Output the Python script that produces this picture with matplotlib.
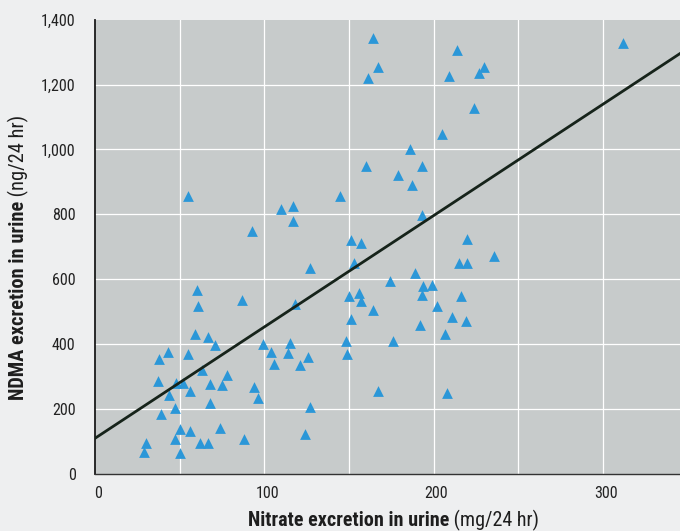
import matplotlib
matplotlib.use("Agg")
import matplotlib.pyplot as plt
import matplotlib.transforms as mtransforms
import numpy as np

# Nitrate excretion (mg/24 hr) vs NDMA excretion (ng/24 hr)
nitrate = [29, 30, 50, 47, 62, 67, 88, 50, 56, 74, 39, 47, 68, 44, 56, 96, 94,
           37, 48, 52, 68, 75, 78, 63, 38, 43, 55, 59, 67, 71, 61, 60, 87, 55,
           93, 110, 117, 117, 127, 118, 99, 115, 104, 114, 126, 106, 121, 127, 124,
           145, 151, 157, 153, 150, 156, 157, 164, 151, 148, 149, 167, 160, 164, 167, 161,
           179, 187, 193, 193, 186, 205, 224, 209, 214, 227, 230, 220, 236, 215, 220,
           174, 189, 194, 199, 193, 216, 202, 211, 219, 192, 176, 207, 208, 312]
ndma = [68, 96, 65, 108, 96, 96, 108, 139, 133, 142, 185, 203, 218, 243, 255, 234, 267,
        286, 280, 280, 276, 273, 304, 319, 353, 377, 371, 432, 423, 396, 518, 567, 536, 857,
        750, 815, 827, 781, 634, 524, 399, 405, 377, 374, 362, 338, 335, 206, 124,
        857, 720, 711, 650, 549, 558, 533, 506, 478, 411, 371, 255, 949, 1344, 1255, 1221,
        922, 891, 799, 949, 1001, 1047, 1127, 1227, 1307, 1237, 1255, 723, 671, 650, 650,
        594, 619, 579, 582, 552, 549, 518, 484, 472, 460, 411, 432, 249, 1328]

# regression line
fit_intercept = 110
fit_slope = 3.43

x_ticks = [0, 100, 200, 300]
x_grid = [50, 100, 150, 200, 250, 300]
y_ticks = [0, 200, 400, 600, 800, 1000, 1200, 1400]
y_tick_labels = ["0", "200", "400", "600", "800", "1,000", "1,200", "1,400"]

FONT = ["Roboto Condensed", "Liberation Sans Narrow", "Liberation Sans", "DejaVu Sans"]
BG = "#eeeff0"


def two_part_label(fig, bold, normal, start, base, rotation, length):
    """Bold + regular label side by side, fitted to `length` figure pixels."""
    r = fig.canvas.get_renderer()
    t1 = fig.text(0, 0, bold, fontsize=14, weight="bold", family=FONT)
    t2 = fig.text(0, 0, " " + normal, fontsize=14, family=FONT)
    total = t1.get_window_extent(r).width + t2.get_window_extent(r).width
    size = 14 * length / total
    t1.set_fontsize(size)
    t2.set_fontsize(size)
    w1 = t1.get_window_extent(r).width
    W, H = fig.bbox.width, fig.bbox.height
    if rotation == 0:
        t1.set_position((start / W, base / H))
        t2.set_position(((start + w1) / W, base / H))
    else:
        t1.set_position((base / W, start / H))
        t2.set_position((base / W, (start + w1) / H))
    for t in (t1, t2):
        t.set_rotation(rotation)
        t.set_rotation_mode("anchor")
        t.set_ha("left")
        t.set_va("baseline")
        t.set_color("#1e1e1e")


fig = plt.figure(figsize=(6.8, 5.31), dpi=100, facecolor=BG)
ax = fig.add_axes([95 / 680, 1 - 474 / 531, 585 / 680, (474 - 19.6) / 531])
ax.set_facecolor("#c7cbcb")

ax.set_xlim(0, 345.6)
ax.set_ylim(0, 1400)

ax.set_xticks(x_ticks)
ax.set_yticks(y_ticks)
ax.set_yticklabels(y_tick_labels)
ax.grid(False)
for gx in x_grid:
    ax.axvline(gx, color="white", lw=0.9, zorder=1)
for gy in y_ticks[1:-1]:
    ax.axhline(gy, color="white", lw=0.9, zorder=1)

ax.tick_params(which="both", length=0, labelsize=11.5, colors="#222222")
ax.tick_params(axis="y", pad=14)
ax.tick_params(axis="x", pad=9)
for lbl in ax.get_xticklabels() + ax.get_yticklabels():
    lbl.set_family(FONT)
shift_x = mtransforms.ScaledTranslation(3 / 100, 0, fig.dpi_scale_trans)
for lbl in ax.get_xticklabels():
    lbl.set_transform(lbl.get_transform() + shift_x)

for side in ("top", "right"):
    ax.spines[side].set_visible(False)
ax.spines["left"].set_color("#1a1a1a")
ax.spines["left"].set_linewidth(1.3)
ax.spines["bottom"].set_color("#333333")
ax.spines["bottom"].set_linewidth(1.0)

ax.scatter(nitrate, ndma, marker="^", s=60, color="#2b97d8", linewidths=0, zorder=3)

xs = np.array(ax.get_xlim())
ax.plot(xs, fit_intercept + fit_slope * xs, color="#16231a", lw=2.0, zorder=4)

# axis labels (bold part + units in regular weight)
two_part_label(fig, "Nitrate excretion in urine", "(mg/24 hr)", 248, 531 - 526, 0, 293)
two_part_label(fig, "NDMA excretion in urine", "(ng/24 hr)", 531 - 400, 24, 90, 287)

fig.savefig("out.png", dpi=100, facecolor=BG)
